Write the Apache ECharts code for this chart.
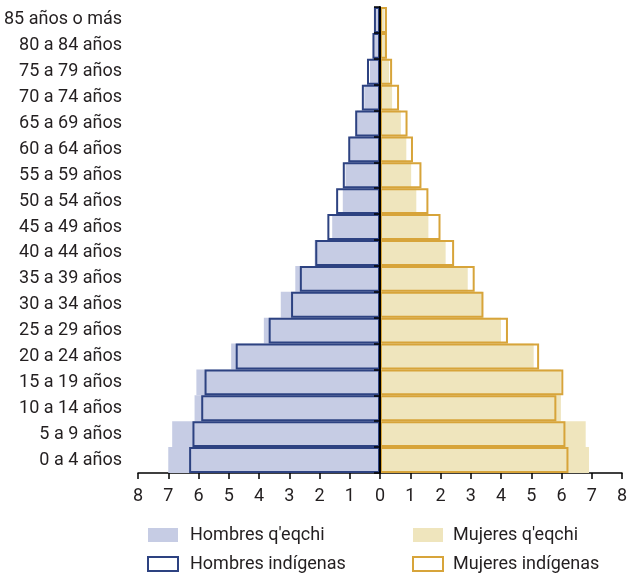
<!DOCTYPE html>
<html>
<head>
<meta charset="utf-8">
<script src="https://cdn.jsdelivr.net/npm/echarts@6/dist/echarts.min.js"></script>
<style>
html,body{margin:0;padding:0;background:#fff;}
#c{width:628px;height:575px;}
</style>
</head>
<body>
<div id="c"></div>
<script>
// Categories (bottom to top)
var categories = ["0 a 4 años","5 a 9 años","10 a 14 años","15 a 19 años","20 a 24 años","25 a 29 años","30 a 34 años","35 a 39 años","40 a 44 años","45 a 49 años","50 a 54 años","55 a 59 años","60 a 64 años","65 a 69 años","70 a 74 años","75 a 79 años","80 a 84 años","85 años o más"];
// Percentages
var hombresQeqchi   = [7.00, 6.87, 6.13, 6.07, 4.92, 3.84, 3.28, 2.80, 2.16, 1.58, 1.23, 1.14, 0.99, 0.76, 0.52, 0.33, 0.22, 0.13];
var hombresIndigenas= [6.31, 6.20, 5.91, 5.80, 4.77, 3.68, 2.94, 2.65, 2.14, 1.74, 1.45, 1.23, 1.05, 0.82, 0.60, 0.43, 0.25, 0.20];
var mujeresQeqchi   = [6.91, 6.80, 5.98, 5.98, 5.08, 4.00, 3.38, 2.90, 2.17, 1.60, 1.20, 1.03, 0.87, 0.69, 0.40, 0.30, 0.19, 0.15];
var mujeresIndigenas= [6.23, 6.13, 5.83, 6.06, 5.26, 4.23, 3.42, 3.13, 2.45, 2.00, 1.60, 1.37, 1.09, 0.91, 0.63, 0.40, 0.23, 0.23];
var xTicks = [-8,-7,-6,-5,-4,-3,-2,-1,0,1,2,3,4,5,6,7,8];

var FONT = 'Roboto, "Liberation Sans", sans-serif';
var FS = 18;
var TXT = '#231f20';
var C = {
  mFill:'#c6cce4', mLine:'#2d4281',
  fFill:'#efe5bd', fLine:'#d7a43a'
};
var neg = function(a){ return a.map(function(v){ return -v; }); };

var chart = echarts.init(document.getElementById('c'));
chart.setOption({
  animation:false,
  textStyle:{fontFamily:FONT},
  grid:{left:138, right:6, top:7, bottom:102, containLabel:false, outerBoundsMode:'none'},
  xAxis:{
    type:'value', min:xTicks[0], max:xTicks[xTicks.length-1], interval:1,
    axisLine:{show:true, onZero:false, lineStyle:{color:'#000', width:1.5}},
    axisTick:{show:true, length:6, lineStyle:{color:'#000', width:1.5}},
    splitLine:{show:false},
    axisLabel:{fontFamily:FONT, fontSize:FS, color:TXT, margin:14,
      formatter:function(v){ return String(Math.abs(v)); }}
  },
  yAxis:[{
    type:'category', data:categories, position:'left',
    axisLine:{show:false, onZero:false}, axisTick:{show:false},
    axisLabel:{fontFamily:FONT, fontSize:FS, color:TXT, margin:16, interval:0}
  },{
    type:'category', data:categories, position:'left', z:10,
    axisLine:{show:true, onZero:true, lineStyle:{color:'#000', width:2}},
    axisTick:{show:true, length:6, lineStyle:{color:'#000', width:1.5}},
    axisLabel:{show:false}
  }],
  legend:[{
    orient:'vertical', left:147, top:526, padding:0, itemWidth:30, itemHeight:14, itemGap:11,
    icon:'rect', selectedMode:false,
    textStyle:{fontFamily:FONT, fontSize:FS, lineHeight:18, color:TXT, padding:[0,0,0,7]},
    data:[
      {name:"Hombres q'eqchi", itemStyle:{color:C.mFill, borderWidth:0}},
      {name:"Hombres indígenas", itemStyle:{color:'#fff', borderColor:C.mLine, borderWidth:2}}
    ]
  },{
    orient:'vertical', left:412, top:526, padding:0, itemWidth:30, itemHeight:14, itemGap:11,
    icon:'rect', selectedMode:false,
    textStyle:{fontFamily:FONT, fontSize:FS, lineHeight:18, color:TXT, padding:[0,0,0,5]},
    data:[
      {name:"Mujeres q'eqchi", itemStyle:{color:C.fFill, borderWidth:0}},
      {name:"Mujeres indígenas", itemStyle:{color:'#fff', borderColor:C.fLine, borderWidth:2}}
    ]
  }],
  series:[
    {name:"Hombres q'eqchi", type:'bar', data:neg(hombresQeqchi), barGap:'-100%', barCategoryGap:'0%',
      itemStyle:{color:C.mFill}, z:2},
    {name:"Mujeres q'eqchi", type:'bar', data:mujeresQeqchi, barGap:'-100%', barCategoryGap:'0%',
      itemStyle:{color:C.fFill}, z:2},
    {name:"Hombres indígenas", type:'bar', data:neg(hombresIndigenas), barGap:'-100%', barCategoryGap:'0%',
      itemStyle:{color:'rgba(255,255,255,0)', borderColor:C.mLine, borderWidth:2}, z:3},
    {name:"Mujeres indígenas", type:'bar', data:mujeresIndigenas, barGap:'-100%', barCategoryGap:'0%',
      itemStyle:{color:'rgba(255,255,255,0)', borderColor:C.fLine, borderWidth:2}, z:3}
  ]
});
</script>
</body>
</html>
